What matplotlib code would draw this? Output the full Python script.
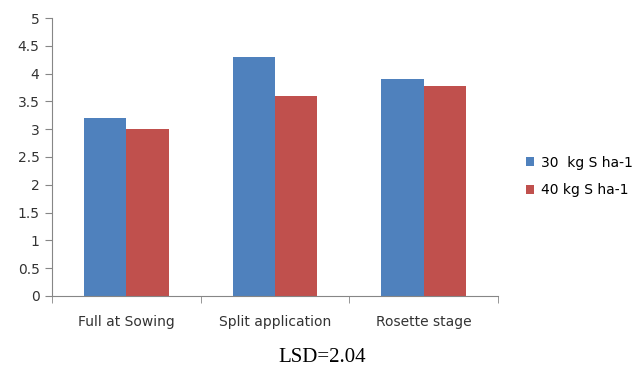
import numpy as np
import matplotlib
matplotlib.use('Agg')
import matplotlib.pyplot as plt

categories = ['Full at Sowing', 'Split application', 'Rosette stage']
s30 = [3.2, 4.3, 3.9]
s40 = [3.0, 3.6, 3.78]
labels = ['30  kg S ha-1', '40 kg S ha-1']

fig = plt.figure(figsize=(6.35, 3.66), dpi=100)
ax = fig.add_axes([0.0819, 0.1913, 0.7024, 0.7595])

x = np.arange(len(categories))
w = 0.2857
ax.bar(x - w / 2, s30, w, color='#4F81BD', label=labels[0])
ax.bar(x + w / 2, s40, w, color='#C0504D', label=labels[1])

ax.set_xlim(-0.5, 2.5)
ax.set_ylim(0, 5)
ax.set_yticks(np.arange(0, 5.01, 0.5))
ax.set_yticklabels(['0', '0.5', '1', '1.5', '2', '2.5', '3', '3.5', '4', '4.5', '5'])
ax.set_xticks(x)
ax.set_xticklabels(categories)
ax.set_xticks([-0.5, 0.5, 1.5, 2.5], minor=True)
ax.tick_params(axis='x', which='major', length=0, pad=14, labelsize=10, colors='#333333')
ax.tick_params(axis='x', which='minor', length=5, color='#868686')
ax.tick_params(axis='y', length=5, color='#868686', labelsize=10, labelcolor='#333333', pad=4)
for s in ['top', 'right']:
    ax.spines[s].set_visible(False)
for s in ['left', 'bottom']:
    ax.spines[s].set_color('#868686')

leg = ax.legend(loc='center left', bbox_to_anchor=(1.035, 0.43), frameon=False,
                fontsize=10, handlelength=0.6, handleheight=0.6, handletextpad=0.5,
                labelspacing=1.0)

fig.text(0.507, 0.024, 'LSD=2.04', ha='center', va='center',
         family='Liberation Serif', fontsize=15)

fig.savefig('out.png')
